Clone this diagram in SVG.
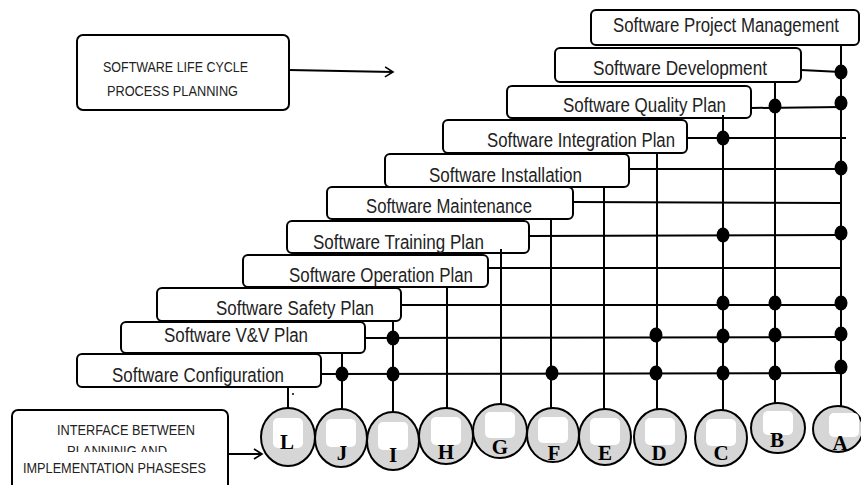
<svg xmlns="http://www.w3.org/2000/svg" width="861" height="485" viewBox="0 0 861 485">
<defs>
<style>
.box{fill:#fff;stroke:#000;stroke-width:2}
.lbl{font-family:"Liberation Sans Narrow","Liberation Sans",Arial,sans-serif;font-size:20px;fill:#222}
.cap{font-family:"Liberation Sans Narrow","Liberation Sans",Arial,sans-serif;font-size:14px;fill:#222}
.ln{stroke:#000;stroke-width:2;fill:none}
.dot{fill:#000}
.circ{fill:#d6d6d6;stroke:#000;stroke-width:2}
.hl{fill:#fff}
.let{font-family:"Liberation Serif","Times New Roman",serif;font-size:21px;font-weight:bold;fill:#000;text-anchor:middle}
</style>
<marker id="open" markerWidth="12" markerHeight="12" refX="10" refY="6" orient="auto" markerUnits="userSpaceOnUse">
<path d="M2,1 L10,6 L2,11" fill="none" stroke="#000" stroke-width="1.6"/>
</marker>
<clipPath id="clip2"><rect x="0" y="400" width="240" height="52"/></clipPath>
</defs>

<g id="plans">
<g id="n-pm"><rect class="box" x="591" y="10" width="268" height="35" rx="5"/><text class="lbl" x="613" y="32" textLength="226" lengthAdjust="spacingAndGlyphs">Software Project Management</text></g>
<g id="n-dev"><rect class="box" x="555" y="48" width="246" height="34" rx="5"/><text class="lbl" x="593" y="75" textLength="174" lengthAdjust="spacingAndGlyphs">Software Development</text></g>
<g id="n-qp"><rect class="box" x="507" y="86" width="244" height="32" rx="5"/><text class="lbl" x="563" y="112" textLength="163" lengthAdjust="spacingAndGlyphs">Software Quality Plan</text></g>
<g id="n-ip"><rect class="box" x="443" y="120" width="244" height="33" rx="5"/><text class="lbl" x="487" y="147" textLength="188" lengthAdjust="spacingAndGlyphs">Software Integration Plan</text></g>
<g id="n-inst"><rect class="box" x="385" y="154" width="244" height="33" rx="5"/><text class="lbl" x="429" y="182" textLength="153" lengthAdjust="spacingAndGlyphs">Software Installation</text></g>
<g id="n-mnt"><rect class="box" x="327" y="187" width="246" height="32" rx="5"/><text class="lbl" x="366" y="213" textLength="166" lengthAdjust="spacingAndGlyphs">Software Maintenance</text></g>
<g id="n-tp"><rect class="box" x="287" y="221" width="242" height="32" rx="5"/><text class="lbl" x="313" y="249" textLength="171" lengthAdjust="spacingAndGlyphs">Software Training Plan</text></g>
<g id="n-op"><rect class="box" x="243" y="255" width="245" height="32" rx="5"/><text class="lbl" x="289" y="282" textLength="184" lengthAdjust="spacingAndGlyphs">Software Operation Plan</text></g>
<g id="n-sp"><rect class="box" x="157" y="288" width="244" height="33" rx="5"/><text class="lbl" x="216" y="315" textLength="158" lengthAdjust="spacingAndGlyphs">Software Safety Plan</text></g>
<g id="n-vv"><rect class="box" x="121" y="322" width="244" height="31" rx="5"/><text class="lbl" x="164" y="342" textLength="144" lengthAdjust="spacingAndGlyphs">Software V&amp;V Plan</text></g>
<g id="n-cfg"><rect class="box" x="77" y="354" width="244" height="33" rx="5"/><text class="lbl" x="112" y="382" textLength="172" lengthAdjust="spacingAndGlyphs">Software Configuration</text></g>
</g>

<g id="n-lcp"><rect class="box" x="77" y="35" width="212" height="75" rx="6"/>
<text class="cap" x="103" y="72" textLength="145" lengthAdjust="spacingAndGlyphs">SOFTWARE LIFE CYCLE</text>
<text class="cap" x="107" y="96" textLength="131" lengthAdjust="spacingAndGlyphs">PROCESS PLANNING</text></g>

<g id="n-iface"><rect class="box" x="12" y="410" width="216" height="90" rx="6"/>
<text class="cap" x="57" y="435" textLength="138" lengthAdjust="spacingAndGlyphs">INTERFACE BETWEEN</text>
<text class="cap" x="67" y="456" textLength="100" lengthAdjust="spacingAndGlyphs" clip-path="url(#clip2)">PLANNINIG AND</text>
<text class="cap" x="23" y="473" textLength="183" lengthAdjust="spacingAndGlyphs">IMPLEMENTATION PHASESES</text></g>

<g id="connectors">
<line class="ln" x1="289" y1="70" x2="393" y2="72" marker-end="url(#open)"/>
<line class="ln" x1="228" y1="454" x2="262" y2="454" marker-end="url(#open)"/>
<line class="ln" x1="841" y1="45" x2="841" y2="406"/>
<line class="ln" x1="775" y1="82" x2="775" y2="403"/>
<line class="ln" x1="723" y1="115" x2="723" y2="410"/>
<line class="ln" x1="657" y1="153" x2="657" y2="409"/>
<line class="ln" x1="604" y1="187" x2="604" y2="409"/>
<line class="ln" x1="551" y1="219" x2="551" y2="408"/>
<line class="ln" x1="501" y1="249" x2="501" y2="404"/>
<line class="ln" x1="447" y1="287" x2="447" y2="408"/>
<line class="ln" x1="393" y1="321" x2="393" y2="412"/>
<line class="ln" x1="342" y1="353" x2="342" y2="409"/>
<line class="ln" x1="288" y1="387" x2="288" y2="408"/>
<line class="ln" x1="801" y1="70" x2="841" y2="72"/>
<line class="ln" x1="751" y1="108" x2="841" y2="107"/>
<line class="ln" x1="687" y1="138" x2="846" y2="138"/>
<line class="ln" x1="629" y1="169" x2="841" y2="169"/>
<line class="ln" x1="573" y1="202" x2="841" y2="203"/>
<line class="ln" x1="529" y1="236" x2="841" y2="235"/>
<line class="ln" x1="488" y1="268" x2="841" y2="268"/>
<line class="ln" x1="401" y1="305" x2="841" y2="305"/>
<line class="ln" x1="365" y1="338" x2="841" y2="337"/>
<line class="ln" x1="321" y1="374" x2="841" y2="373"/>
<ellipse class="dot" cx="841" cy="72" rx="6.5" ry="7.5"/>
<ellipse class="dot" cx="775" cy="106" rx="6.5" ry="7.5"/>
<ellipse class="dot" cx="841" cy="103" rx="6.5" ry="7.5"/>
<ellipse class="dot" cx="723" cy="138" rx="6.5" ry="7.5"/>
<ellipse class="dot" cx="841" cy="168" rx="6.5" ry="7.5"/>
<ellipse class="dot" cx="723" cy="235" rx="6.5" ry="7.5"/>
<ellipse class="dot" cx="841" cy="233" rx="6.5" ry="7.5"/>
<ellipse class="dot" cx="723" cy="303" rx="6.5" ry="7.5"/>
<ellipse class="dot" cx="775" cy="303" rx="6.5" ry="7.5"/>
<ellipse class="dot" cx="841" cy="303" rx="6.5" ry="7.5"/>
<ellipse class="dot" cx="393" cy="338" rx="6.5" ry="7.5"/>
<ellipse class="dot" cx="656" cy="335" rx="6.5" ry="7.5"/>
<ellipse class="dot" cx="723" cy="336" rx="6.5" ry="7.5"/>
<ellipse class="dot" cx="775" cy="335" rx="6.5" ry="7.5"/>
<ellipse class="dot" cx="841" cy="334" rx="6.5" ry="7.5"/>
<ellipse class="dot" cx="342" cy="374" rx="6.5" ry="7.5"/>
<ellipse class="dot" cx="393" cy="374" rx="6.5" ry="7.5"/>
<ellipse class="dot" cx="552" cy="373" rx="6.5" ry="7.5"/>
<ellipse class="dot" cx="656" cy="373" rx="6.5" ry="7.5"/>
<ellipse class="dot" cx="723" cy="373" rx="6.5" ry="7.5"/>
<ellipse class="dot" cx="775" cy="373" rx="6.5" ry="7.5"/>
<ellipse class="dot" cx="841" cy="367" rx="6.5" ry="7.5"/>
<circle class="dot" cx="293" cy="394" r="1"/>
</g>

<g id="phases">
<g id="n-L"><ellipse class="circ" cx="288" cy="437" rx="27" ry="29"/><rect class="hl" x="273" y="418" width="30" height="30" rx="5"/><text class="let" x="287" y="449">L</text></g>
<g id="n-J"><ellipse class="circ" cx="341" cy="438" rx="26" ry="29"/><rect class="hl" x="326" y="419" width="30" height="28" rx="5"/><text class="let" x="342" y="460">J</text></g>
<g id="n-I"><ellipse class="circ" cx="393" cy="441" rx="26" ry="29"/><rect class="hl" x="378" y="422" width="30" height="28" rx="5"/><text class="let" x="393" y="462">I</text></g>
<g id="n-H"><ellipse class="circ" cx="446" cy="436" rx="27" ry="28"/><rect class="hl" x="431" y="417" width="30" height="28" rx="5"/><text class="let" x="446" y="459">H</text></g>
<g id="n-G"><ellipse class="circ" cx="500" cy="431" rx="27" ry="27"/><rect class="hl" x="485" y="412" width="30" height="26" rx="5"/><text class="let" x="500" y="454">G</text></g>
<g id="n-F"><ellipse class="circ" cx="553" cy="435" rx="26" ry="27"/><rect class="hl" x="538" y="417" width="30" height="26" rx="5"/><text class="let" x="554" y="460">F</text></g>
<g id="n-E"><ellipse class="circ" cx="605" cy="437" rx="26" ry="28"/><rect class="hl" x="590" y="418" width="30" height="27" rx="5"/><text class="let" x="605" y="460">E</text></g>
<g id="n-D"><ellipse class="circ" cx="660" cy="437" rx="26" ry="28"/><rect class="hl" x="645" y="418" width="30" height="27" rx="5"/><text class="let" x="659" y="460">D</text></g>
<g id="n-C"><ellipse class="circ" cx="721" cy="438" rx="26" ry="28"/><rect class="hl" x="706" y="419" width="30" height="27" rx="5"/><text class="let" x="721" y="460">C</text></g>
<g id="n-B"><ellipse class="circ" cx="778" cy="428" rx="27" ry="25"/><rect class="hl" x="763" y="411" width="30" height="24" rx="5"/><text class="let" x="777" y="447">B</text></g>
<g id="n-A"><ellipse class="circ" cx="838" cy="429" rx="25" ry="23"/><rect class="hl" x="829" y="413" width="30" height="24" rx="5"/><text class="let" x="840" y="450">A</text></g>
</g>
</svg>
